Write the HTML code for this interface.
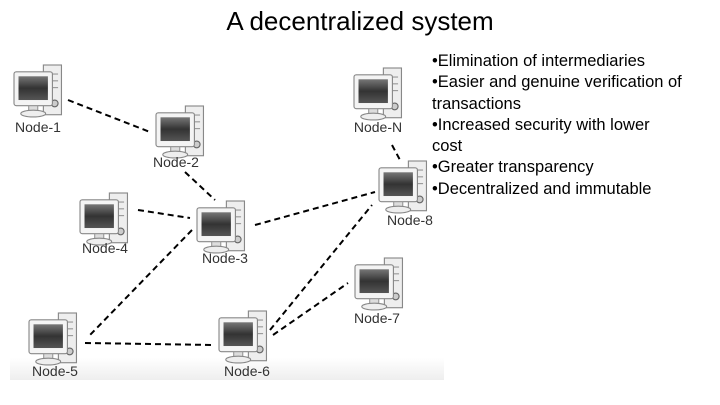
<!DOCTYPE html>
<html><head><style>
body{margin:0;width:720px;height:405px;background:#fff;position:relative;overflow:hidden;font-family:"Liberation Sans",sans-serif}
.t{position:absolute;left:0;width:720px;top:6px;text-align:center;font-size:26px;color:#000}
.b{position:absolute;left:432px;top:51px;font-size:16.5px;line-height:21.3px;color:#000;white-space:nowrap}
</style></head><body>
<div class="t">A decentralized system</div>
<svg width="720" height="405" style="position:absolute;left:0;top:0">
<defs>
<linearGradient id="bg" x1="0" y1="0" x2="0" y2="1"><stop offset="0" stop-color="#fff"/><stop offset="0.93" stop-color="#fff"/><stop offset="1" stop-color="#eeeeee"/></linearGradient>
<linearGradient id="sc" x1="0" y1="0" x2="0" y2="1"><stop offset="0" stop-color="#777"/><stop offset="0.5" stop-color="#333"/><stop offset="1" stop-color="#555"/></linearGradient>
<g id="pc" transform="scale(1.13)">
<rect x="26" y="0" width="16" height="44" fill="#eee" stroke="#888"/>
<line x1="29" y1="8" x2="39" y2="8" stroke="#999"/><line x1="29" y1="14" x2="39" y2="14" stroke="#999"/><line x1="29" y1="20" x2="39" y2="20" stroke="#999"/>
<circle cx="36" cy="34" r="3" fill="#ccc" stroke="#666"/>
<rect x="0" y="6" width="34" height="30" rx="2" fill="#f4f4f4" stroke="#888"/>
<rect x="4" y="10" width="26" height="21" fill="url(#sc)"/>
<rect x="13" y="36" width="8" height="5" fill="#ddd" stroke="#999"/>
<ellipse cx="17" cy="43" rx="11" ry="3" fill="#eee" stroke="#888"/>
</g>
</defs>
<rect x="10" y="60" width="434" height="320" fill="url(#bg)"/>
<g stroke="#000" stroke-width="2" stroke-dasharray="6,4" fill="none">
<line x1="68" y1="100" x2="150" y2="132"/>
<line x1="185" y1="172" x2="215" y2="200"/>
<line x1="392" y1="145" x2="400" y2="160"/>
<line x1="138" y1="210" x2="190" y2="218"/>
<line x1="255" y1="225" x2="375" y2="192"/>
<line x1="192" y1="230" x2="90" y2="335"/>
<line x1="85" y1="343" x2="215" y2="345"/>
<line x1="270" y1="330" x2="372" y2="205"/>
<line x1="273" y1="335" x2="348" y2="283"/>
</g>
<use href="#pc" x="14" y="65"/>
<use href="#pc" x="156" y="106"/>
<use href="#pc" x="354" y="68"/>
<use href="#pc" x="379" y="161"/>
<use href="#pc" x="80" y="193"/>
<use href="#pc" x="197" y="201"/>
<use href="#pc" x="355" y="258"/>
<use href="#pc" x="29" y="313"/>
<use href="#pc" x="219" y="311"/>
<g font-family="Liberation Sans,sans-serif" font-size="14" fill="#333" text-anchor="middle">
<text x="38" y="132">Node-1</text>
<text x="176" y="167">Node-2</text>
<text x="378" y="132">Node-N</text>
<text x="410" y="225">Node-8</text>
<text x="105" y="253">Node-4</text>
<text x="225" y="263">Node-3</text>
<text x="377" y="323">Node-7</text>
<text x="55" y="376">Node-5</text>
<text x="247" y="376">Node-6</text>
</g>
</svg>
<div class="b">•Elimination of intermediaries<br>•Easier and genuine verification of<br>transactions<br>•Increased security with lower<br>cost<br>•Greater transparency<br>•Decentralized and immutable</div>
</body></html>
